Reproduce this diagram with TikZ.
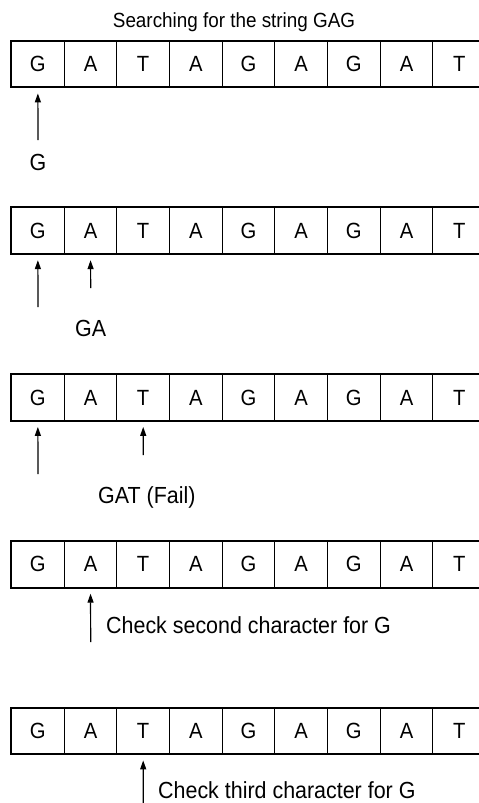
\documentclass[tikz,border=0pt]{standalone}
\usepackage{fontspec}
\setmainfont{Liberation Sans}[FakeStretch=0.92]
\usetikzlibrary{arrows.meta}
\begin{document}
\begin{tikzpicture}[x=1pt,y=-1pt,
  cell/.style={draw, line width=0.8pt, minimum width=52.67pt, minimum height=46pt, inner sep=0pt, font=\fontsize{22}{26}\selectfont},
  outer/.style={line width=2pt},
  arr/.style={line width=1.2pt, -{Triangle[width=6pt,length=9pt]}, shorten >=6pt},
  lab/.style={inner sep=0pt, font=\fontsize{23.3}{27}\selectfont},
  ttl/.style={inner sep=0pt, font=\fontsize{20.5}{24}\selectfont}]
\fill[white] (0,0) rectangle (479,803);
\useasboundingbox (0,0) rectangle (479,803);
\clip (0,0) rectangle (479,803);
\node[ttl, anchor=base] (title) at (234,27.3) {Searching for the string GAG};
\foreach \r [evaluate=\r as \yc using 64+(\r-1)*166.75] in {1,...,5}{
  \foreach \l [count=\c] in {G,A,T,A,G,A,G,A,T}{
    \node[cell] (c\r-\c) at ({11.5+52.67*(\c-0.5)},\yc) {\l};
  }
  \draw[outer] (c\r-1.north west) rectangle (c\r-9.south east);
}
% row 1
\coordinate (t11) at (38,140);
\draw[arr] (t11) -- (c1-1.south);
\node[lab, anchor=base] (l1) at (38,170) {G};
% row 2
\coordinate (t21) at (38,307);
\coordinate (t22) at (90.7,288);
\draw[arr] (t21) -- (c2-1.south);
\draw[arr] (t22) -- (c2-2.south);
\node[lab, anchor=base] (l2) at (90.7,336) {GA};
% row 3
\coordinate (t31) at (38,474);
\coordinate (t33) at (143.3,455);
\draw[arr] (t31) -- (c3-1.south);
\draw[arr] (t33) -- (c3-3.south);
\node[lab, anchor=base west] (l3) at (98,503) {GAT (Fail)};
% row 4
\coordinate (t42) at (90.7,642);
\draw[arr] (t42) -- (c4-2.south);
\node[lab, anchor=base west] (l4) at (106,633) {Check second character for G};
% row 5
\coordinate (t53) at (143.3,810);
\draw[arr] (t53) -- (c5-3.south);
\node[lab, anchor=base west] (l5) at (158,798.5) {Check third character for G};
\end{tikzpicture}
\end{document}
